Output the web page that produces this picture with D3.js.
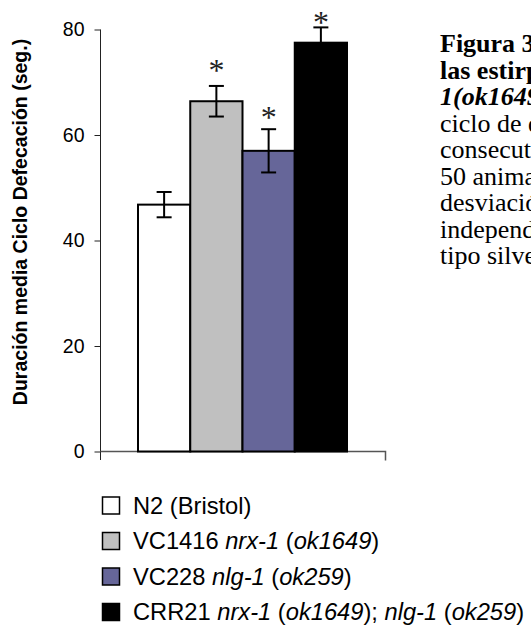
<!DOCTYPE html>
<html>
<head>
<meta charset="utf-8">
<script src="https://cdn.jsdelivr.net/npm/d3@7"></script>
<style>
  body { margin: 0; background: #fff; }
  svg { display: block; }
</style>
</head>
<body>
<div id="chart"></div>
<script>
// data
const strains = ["N2", "VC1416", "VC228", "CRR21"];
const means = [46.8, 66.4, 57.0, 77.5];
const errors = [2.4, 2.9, 4.1, 2.9];
const starLevel = [null, 73.1, 64.2, 82.2];   // where the significance stars sit (seg.)
const fills = ["#ffffff", "#c0c0c0", "#666699", "#000000"];
const yTicks = [0, 20, 40, 60, 80];
const legendLabels = [
  [["N2 (Bristol)", false]],
  [["VC1416 ", false], ["nrx-1", true], [" (", false], ["ok1649", true], [")", false]],
  [["VC228 ", false], ["nlg-1", true], [" (", false], ["ok259", true], [")", false]],
  [["CRR21 ", false], ["nrx-1", true], [" (", false], ["ok1649", true], ["); ", false],
   ["nlg-1", true], [" (", false], ["ok259", true], [")", false]]
];
const captionLines = [
  { t: "Figura 3. Duración", w: "bold", s: "normal" },
  { t: "las estirpes nrx-", w: "bold", s: "normal" },
  { t: "1(ok1649)", w: "bold", s: "italic" },
  { t: "ciclo de defecación", w: "normal", s: "normal" },
  { t: "consecutivos", w: "normal", s: "normal" },
  { t: "50 animales", w: "normal", s: "normal" },
  { t: "desviación", w: "normal", s: "normal" },
  { t: "independientes", w: "normal", s: "normal" },
  { t: "tipo silvestre", w: "normal", s: "normal" }
];

const W = 531, H = 628;
const sans = "'Liberation Sans', Arial, sans-serif";
const serif = "'Liberation Serif', 'Times New Roman', serif";

const svg = d3.select("#chart").append("svg")
  .attr("width", W).attr("height", H);

const axisX0 = 100.5, axisX1 = 386, axisY = 451.5;
const y = d3.scaleLinear().domain([0, 80]).range([axisY, 29.5]);
const x = d3.scaleBand().domain(strains).range([138, 347]).padding(0);

// y axis
const yAxis = svg.append("g")
  .attr("transform", `translate(${axisX0},0)`)
  .call(d3.axisLeft(y).tickValues(yTicks).tickSize(6).tickPadding(10).tickFormat(d3.format("d")));
yAxis.select(".domain").remove();
yAxis.selectAll(".tick line").attr("stroke", "#222");
yAxis.selectAll(".tick text")
  .attr("font-family", sans).attr("font-size", 19.5).attr("fill", "#000");
svg.append("line")
  .attr("x1", axisX0).attr("x2", axisX0)
  .attr("y1", y(80)).attr("y2", axisY + 8.5)
  .attr("stroke", "#222");

// x axis line with end tick
svg.append("path")
  .attr("d", `M${axisX0},${axisY}H${axisX1 - 0.5}V${axisY + 9}`)
  .attr("fill", "none").attr("stroke", "#555").attr("stroke-width", 1.5);

// bars
svg.selectAll("rect.bar").data(strains).join("rect")
  .attr("class", "bar")
  .attr("x", d => x(d))
  .attr("y", (d, i) => y(means[i]))
  .attr("width", x.bandwidth())
  .attr("height", (d, i) => y(0) - y(means[i]))
  .attr("fill", (d, i) => fills[i])
  .attr("stroke", "#000").attr("stroke-width", 2);

// error bars
const capW = 15;
const eb = svg.selectAll("g.err").data(strains).join("g").attr("class", "err")
  .attr("stroke", "#000").attr("stroke-width", 2);
eb.append("line")
  .attr("x1", d => x(d) + x.bandwidth() / 2).attr("x2", d => x(d) + x.bandwidth() / 2)
  .attr("y1", (d, i) => y(means[i] + errors[i])).attr("y2", (d, i) => y(means[i] - errors[i]));
eb.append("line")
  .attr("x1", d => x(d) + x.bandwidth() / 2 - capW / 2).attr("x2", d => x(d) + x.bandwidth() / 2 + capW / 2)
  .attr("y1", (d, i) => y(means[i] + errors[i])).attr("y2", (d, i) => y(means[i] + errors[i]));
eb.append("line")
  .attr("x1", d => x(d) + x.bandwidth() / 2 - capW / 2).attr("x2", d => x(d) + x.bandwidth() / 2 + capW / 2)
  .attr("y1", (d, i) => y(means[i] - errors[i])).attr("y2", (d, i) => y(means[i] - errors[i]));

// significance stars
svg.selectAll("text.star").data(strains.filter((d, i) => starLevel[i] != null)).join("text")
  .attr("class", "star")
  .attr("x", d => x(d) + x.bandwidth() / 2)
  .attr("y", d => y(starLevel[strains.indexOf(d)]) + 15)
  .attr("text-anchor", "middle")
  .attr("font-family", serif).attr("font-size", 32).attr("fill", "#222")
  .text("*");

// y axis title
svg.append("text")
  .attr("transform", `translate(27,222) rotate(-90)`)
  .attr("text-anchor", "middle")
  .attr("font-family", sans).attr("font-weight", "bold").attr("font-size", 19.5)
  .text("Duración media Ciclo Defecación (seg.)");

// legend
const leg = svg.selectAll("g.leg").data(strains).join("g").attr("class", "leg")
  .attr("transform", (d, i) => `translate(102,${505 + i * 35.5})`);
leg.append("rect")
  .attr("x", 0.5).attr("y", -8).attr("width", 17).attr("height", 17)
  .attr("fill", (d, i) => fills[i])
  .attr("stroke", "#000").attr("stroke-width", 1.5);
leg.append("text")
  .attr("x", 31).attr("y", 8.5)
  .attr("font-family", sans).attr("font-size", 23.7)
  .selectAll("tspan").data((d, i) => legendLabels[i]).join("tspan")
  .attr("font-style", d => d[1] ? "italic" : "normal")
  .text(d => d[0]);

// caption text cut by the page edge
svg.append("g").selectAll("text").data(captionLines).join("text")
  .attr("x", 440)
  .attr("y", (d, i) => 52 + i * 26.5)
  .attr("font-family", serif).attr("font-size", 26)
  .attr("font-weight", d => d.w).attr("font-style", d => d.s)
  .text(d => d.t);
</script>
</body>
</html>
